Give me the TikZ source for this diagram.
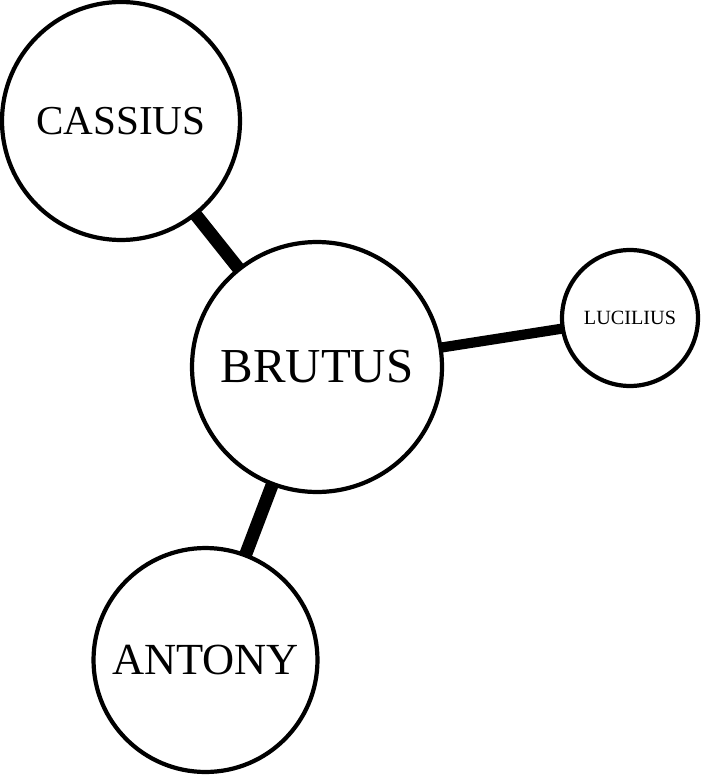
\documentclass[tikz,border=0pt]{standalone}
\usepackage{fontspec}
\setmainfont{Liberation Serif}
\usetikzlibrary{backgrounds}

\tikzset{
	person/.style={draw, circle, line width=2.4pt, fill=white, inner sep=0pt},
	tie/.style={line width=#1}
}

\begin{document}
\begin{tikzpicture}[x=0.02cm, y=-0.02cm]
		\useasboundingbox (0,0) rectangle (700,776);
		\node[person, minimum size=4.76cm] (cassius) at (121, 121) {\fontsize{23.4}{28}\selectfont CASSIUS};
		\node[person, minimum size=5.0cm] (brutus) at (317, 367) {\fontsize{27.8}{33}\selectfont BRUTUS};
		\node[person, minimum size=2.72cm] (lucilius) at (630, 318) {\fontsize{11.5}{14}\selectfont LUCILIUS};
		\node[person, minimum size=4.48cm] (antony) at (205.5, 660) {\fontsize{25.3}{30}\selectfont ANTONY};
		\begin{scope}[on background layer]
		\draw[tie=7.4pt] (cassius.center)--(brutus.center);
		\draw[tie=5.8pt] (brutus.center)--(lucilius.center);
		\draw[tie=7.4pt] (brutus.center)--(antony.center);
		\end{scope}
		\end{tikzpicture}
\end{document}
